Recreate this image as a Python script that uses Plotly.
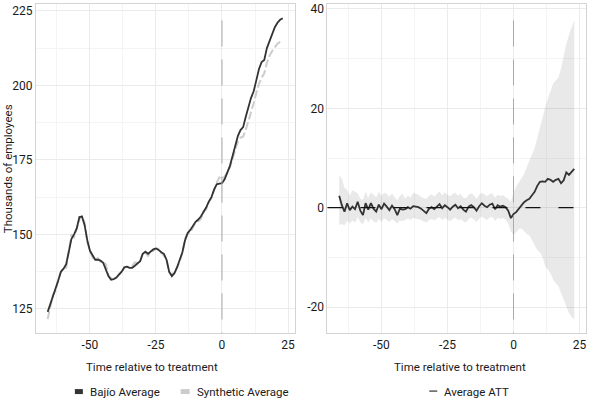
import plotly.graph_objects as go

t = list(range(-66, 24))
bajio = [124.0, 126.5, 129.0, 132.0, 134.5, 137.5, 138.5, 140.0, 144.0, 148.5,
         150.0, 152.0, 155.8, 156.0, 153.0, 148.0, 144.5, 143.0, 141.5, 141.5,
         141.2, 140.5, 138.5, 136.0, 134.8, 135.0, 135.5, 136.5, 137.5, 139.0,
         139.2, 138.8, 138.8, 139.5, 140.2, 141.0, 143.5, 144.2, 143.5, 144.2,
         145.0, 145.3, 144.8, 144.0, 143.5, 141.5, 137.5, 136.0, 137.0, 139.0,
         141.5, 144.0, 148.0, 150.5, 151.5, 153.0, 154.2, 155.0, 156.0, 157.5,
         159.0, 161.0, 162.5, 165.0, 166.8, 167.0, 167.2, 168.5, 170.5, 173.0,
         176.3, 179.5, 183.0, 185.0, 186.0, 189.5, 193.0, 195.8, 198.0, 202.0,
         205.5, 207.8, 208.5, 212.5, 215.0, 217.0, 219.5, 221.0, 222.0, 222.5]
synthetic = [121.6, 126.0, 129.8, 131.1, 135.0, 137.3, 138.8, 138.8, 144.6, 150.0,
             149.1, 152.4, 154.9, 156.2, 153.8, 147.4, 144.8, 142.2, 141.3, 142.0,
             140.8, 140.8, 140.0, 136.2, 135.2, 135.3, 135.4, 136.7, 137.2, 138.8,
             139.1, 139.0, 139.4, 140.6, 140.4, 140.9, 143.8, 143.9, 142.8, 144.3,
             144.5, 145.2, 145.2, 143.8, 142.9, 141.6, 137.2, 136.4, 137.8, 138.8,
             141.0, 143.9, 148.6, 150.2, 150.6, 152.6, 154.1, 154.4, 155.2, 157.8,
             158.5, 160.8, 162.1, 164.9, 167.4, 169.1, 168.5, 169.4, 170.7, 172.5,
             175.2, 178.0, 181.2, 182.5, 182.8, 185.1, 187.8, 190.5, 194.0, 197.5,
             200.5, 202.6, 204.0, 207.5, 210.0, 211.5, 212.6, 214.0, 214.6, 214.8]
att = [2.4, 0.5, -0.8, 0.9, -0.5, 0.2, -0.3, 1.2, -0.6, -1.5,
       0.9, -0.4, 0.9, -0.2, -0.8, 0.6, -0.3, 0.8, 0.2, -0.5,
       0.4, -0.3, -1.5, -0.2, -0.4, -0.3, 0.1, -0.2, 0.3, 0.2,
       0.1, -0.2, -0.6, -1.1, -0.2, 0.1, -0.3, 0.3, 0.7, -0.1,
       0.5, 0.1, -0.4, 0.2, 0.6, -0.1, 0.3, -0.4, -0.8, 0.2,
       0.5, 0.1, -0.6, 0.3, 0.9, 0.4, 0.1, 0.6, 0.8, -0.3,
       0.5, 0.2, 0.4, 0.1, -0.6, -2.1, -1.3, -0.9, -0.2, 0.5,
       1.1, 1.5, 1.8, 2.5, 3.2, 4.4, 5.2, 5.3, 5.2, 5.8,
       5.6, 5.2, 5.6, 5.8, 4.9, 5.5, 7.1, 6.6, 7.3, 7.8]
att_hi = [6.6, 5.8, 4.0, 3.6, 2.4, 3.5, 3.2, 2.9, 1.8, 1.6,
          3.2, 2.0, 3.1, 2.6, 2.1, 3.2, 2.4, 3.0, 2.8, 2.2,
          2.9, 2.1, 1.5, 2.4, 2.8, 1.8, 2.5, 2.0, 3.0, 2.8,
          2.6, 2.2, 1.9, 1.8, 2.4, 2.7, 2.2, 2.8, 3.3, 2.5,
          3.1, 2.6, 2.3, 2.8, 3.0, 2.4, 2.8, 2.0, 1.9, 2.6,
          2.9, 2.5, 1.8, 2.6, 3.0, 2.7, 2.3, 2.8, 2.9, 2.0,
          2.6, 2.4, 2.5, 2.1, 1.8, 1.2, 3.0, 4.2, 5.0, 5.8,
          6.8, 8.2, 9.5, 10.8, 12.0, 14.0, 16.2, 18.2, 20.2, 22.0,
          23.5, 25.0, 25.6, 26.2, 28.0, 30.8, 33.0, 34.8, 36.5, 37.8]
att_lo = [-3.5, -3.3, -3.6, -2.6, -3.2, -2.6, -3.0, -2.0, -2.9, -3.4,
          -2.1, -3.0, -2.2, -2.8, -3.1, -2.3, -2.9, -2.1, -2.5, -2.9,
          -2.3, -2.7, -3.2, -2.6, -2.7, -2.5, -2.2, -2.5, -2.1, -2.2,
          -2.3, -2.5, -2.8, -3.0, -2.5, -2.3, -2.6, -2.2, -1.9, -2.5,
          -2.1, -2.4, -2.8, -2.3, -2.0, -2.6, -2.3, -2.8, -3.0, -2.3,
          -2.0, -2.4, -2.9, -2.2, -1.8, -2.2, -2.5, -2.0, -1.9, -2.7,
          -2.1, -2.3, -2.1, -2.4, -3.2, -4.8, -5.5, -5.0, -4.3, -4.2,
          -4.8, -5.3, -5.6, -6.5, -7.6, -8.5, -9.0, -10.0, -11.8, -12.5,
          -13.2, -14.5, -15.2, -15.8, -17.2, -18.6, -20.0, -21.2, -22.0, -22.5]

x_ticks = [-50, -25, 0, 25]
x_labels = ['-50', '-25', '0', '25']
y1_ticks = [125, 150, 175, 200, 225]
y2_ticks = [-20, 0, 20, 40]
y2_labels = ['-20', '0', '20', '40']

FONT = 'Roboto, Liberation Sans, sans-serif'
W, H = 590, 407
px = lambda x: x / W
py = lambda y: 1 - y / H

fig = go.Figure()
fig.add_trace(go.Scatter(x=t, y=synthetic, mode='lines', line=dict(color='#cccccc', width=2, dash='8px,3px'), xaxis='x', yaxis='y'))
fig.add_trace(go.Scatter(x=t, y=bajio, mode='lines', line=dict(color='#333333', width=1.8), xaxis='x', yaxis='y'))
fig.add_trace(go.Scatter(x=t, y=att_hi, mode='lines', line=dict(width=0), xaxis='x2', yaxis='y2'))
fig.add_trace(go.Scatter(x=t, y=att_lo, mode='lines', line=dict(width=0), fill='tonexty', fillcolor='rgba(0,0,0,0.085)', xaxis='x2', yaxis='y2'))
fig.add_trace(go.Scatter(x=t, y=att, mode='lines', line=dict(color='#333333', width=1.8), xaxis='x2', yaxis='y2'))

grid = dict(showgrid=True, gridcolor='#ebebeb', gridwidth=1, zeroline=False, showline=True, linecolor='#d4d4d4', linewidth=1, mirror=True,
            ticks='', tickfont=dict(family=FONT, size=12, color='#1a1a1a'))
xminor = dict(dtick=12.5, tick0=0, showgrid=True, gridcolor='#f4f4f4')
fig.update_layout(
    width=W, height=H, margin=dict(l=0, r=0, t=0, b=0), showlegend=False,
    paper_bgcolor='white', plot_bgcolor='white', font=dict(family=FONT, color='#1a1a1a'),
    xaxis=dict(domain=[px(36), px(295)], range=[-70.45, 27.45], tickvals=x_ticks, ticktext=x_labels, minor=xminor, anchor='y', **grid),
    yaxis=dict(domain=[py(333), py(2)], range=[116.8, 227.3], tickvals=y1_ticks,
               minor=dict(dtick=12.5, tick0=125, showgrid=True, gridcolor='#f4f4f4'), anchor='x', **grid),
    xaxis2=dict(domain=[px(328), px(587)], range=[-70.45, 27.45], tickvals=x_ticks, ticktext=x_labels, minor=xminor, anchor='y2', **grid),
    yaxis2=dict(domain=[py(333), py(2)], range=[-25.3, 41.0], tickvals=y2_ticks, ticktext=y2_labels,
                minor=dict(dtick=10, tick0=0, showgrid=True, gridcolor='#f4f4f4'), anchor='x2', **grid),
)

# reference lines
fig.add_shape(type='line', xref='x', yref='y domain', x0=0, x1=0, y0=0.95, y1=0, layer='above', line=dict(color='#aaaaaa', width=1, dash='26px,13px'))
fig.add_shape(type='line', xref='x2', yref='y2 domain', x0=0, x1=0, y0=0.95, y1=0, layer='above', line=dict(color='#aaaaaa', width=1, dash='26px,13px'))
fig.add_shape(type='line', xref='x2 domain', yref='y2', x0=0, x1=1, y0=0, y1=0, layer='above', line=dict(color='#111111', width=1.2, dash='15px,18px'))

# axis titles
tf = dict(family=FONT, size=11.5, color='#1a1a1a')
def label(text, x, y, **kw):
    fig.add_annotation(text=text, x=px(x), y=py(y), xref='paper', yref='paper', yanchor='middle', showarrow=False, font=tf, **kw)
label('Thousands of employees', 8, 167, xanchor='center', textangle=-90)
label('Time relative to treatment', 152, 367, xanchor='center')
label('Time relative to treatment', 461, 367, xanchor='center')

# legends
fig.add_shape(type='rect', xref='paper', yref='paper', x0=px(75), x1=px(83), y0=py(394), y1=py(389), fillcolor='#333333', line=dict(width=0))
label('Bajío Average', 88, 391.5, xanchor='left')
fig.add_shape(type='rect', xref='paper', yref='paper', x0=px(181), x1=px(190), y0=py(394), y1=py(389), fillcolor='#cccccc', line=dict(width=0))
label('Synthetic Average', 195, 391.5, xanchor='left')
fig.add_shape(type='line', xref='paper', yref='paper', x0=px(430), x1=px(438), y0=py(391), y1=py(391), line=dict(color='#333333', width=1.2))
label('Average ATT', 443, 391.5, xanchor='left')

fig.write_html('out.html', config={'displayModeBar': False}, post_script="document.body.style.margin='0';")
